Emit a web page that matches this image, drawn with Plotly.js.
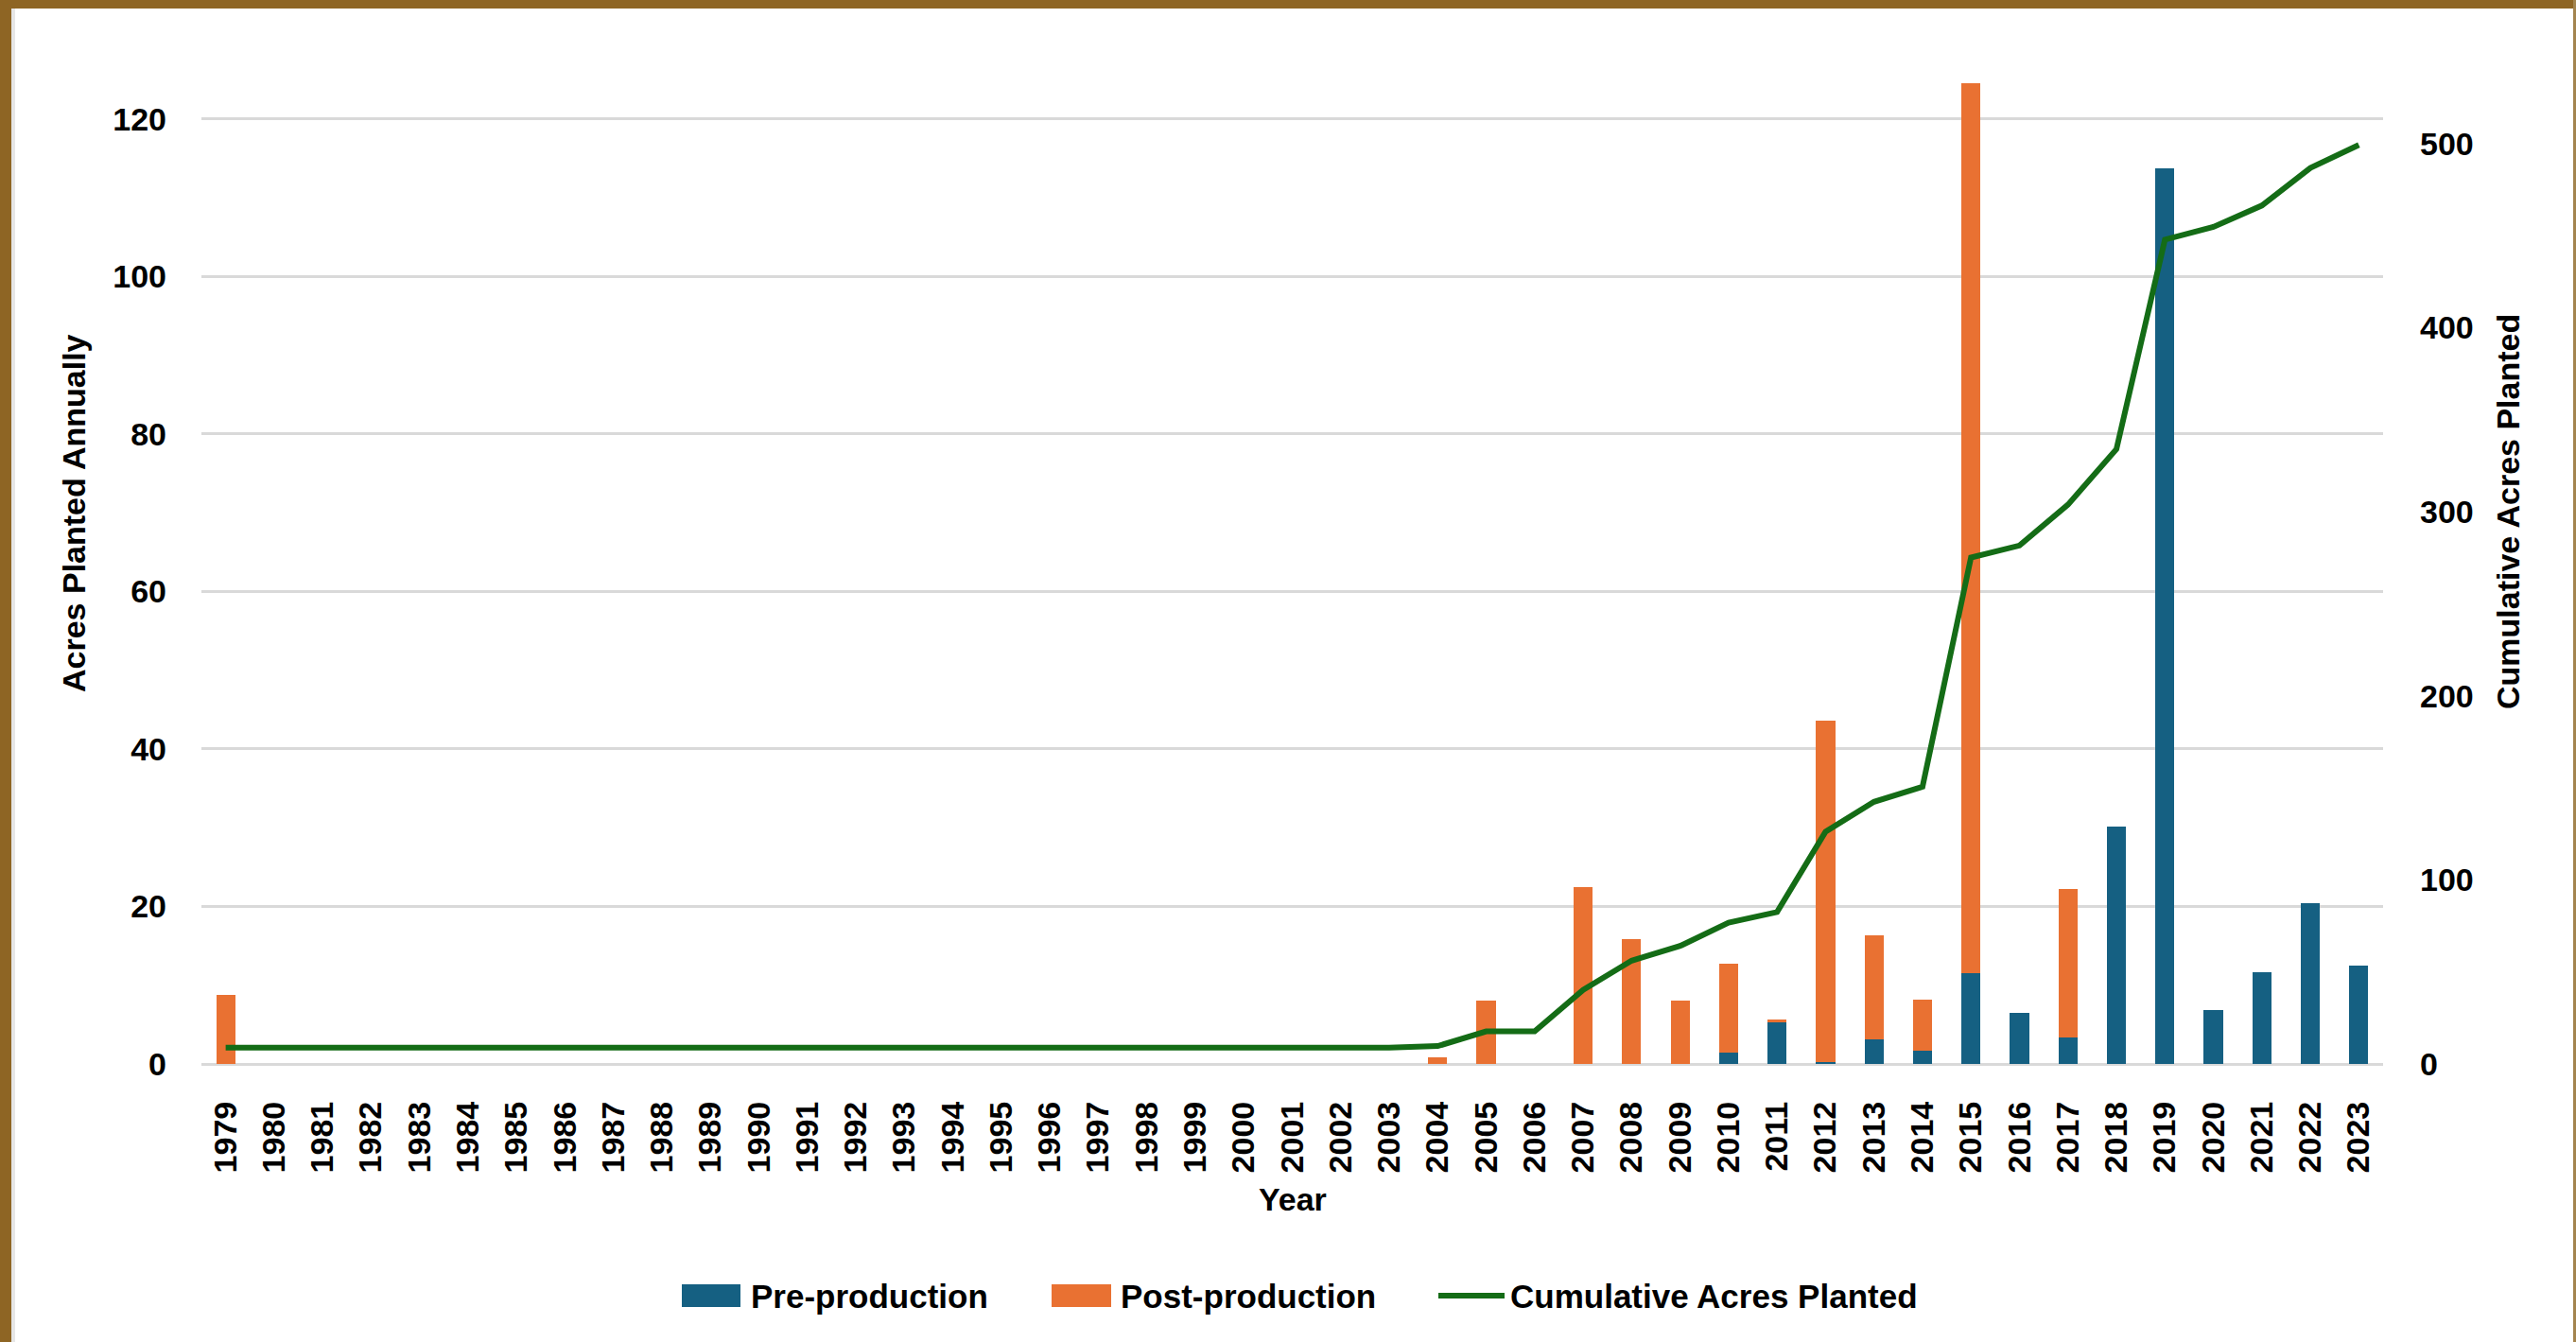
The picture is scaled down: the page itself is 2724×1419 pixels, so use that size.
<!DOCTYPE html>
<html>
<head>
<meta charset="utf-8">
<script src="https://cdn.plot.ly/plotly-3.0.1.min.js"></script>
<style>
  html, body { margin: 0; padding: 0; background: #ffffff; }
  #wrap { position: relative; width: 2724px; height: 1419px; overflow: hidden; background: #ffffff; }
  #chart { position: absolute; left: 0; top: 0; width: 2724px; height: 1419px; }
  .edge { position: absolute; pointer-events: none; }
</style>
</head>
<body>
<div id="wrap">
  <div id="chart"></div>
  <div class="edge" style="left:0;top:0;width:2724px;height:9px;background:#8E6524"></div>
  <div class="edge" style="left:0;top:0;width:12px;height:1419px;background:#8E6524"></div>
  <div class="edge" style="left:12px;top:9px;width:4px;height:1410px;background:#e6e6e6"></div>
  <div class="edge" style="right:0;top:0;width:3px;height:1419px;background:#A3844F"></div>
</div>
<script>
// Planting years
const years = [
  1979, 1980, 1981, 1982, 1983, 1984, 1985, 1986, 1987, 1988,
  1989, 1990, 1991, 1992, 1993, 1994, 1995, 1996, 1997, 1998,
  1999, 2000, 2001, 2002, 2003, 2004, 2005, 2006, 2007, 2008,
  2009, 2010, 2011, 2012, 2013, 2014, 2015, 2016, 2017, 2018,
  2019, 2020, 2021, 2022, 2023
];

// Acres planted each year, pre-production blocks
const preProduction = [
  0, 0, 0, 0, 0, 0, 0, 0, 0, 0,
  0, 0, 0, 0, 0, 0, 0, 0, 0, 0,
  0, 0, 0, 0, 0, 0, 0, 0, 0, 0,
  0, 1.5, 5.3, 0.3, 3.1, 1.7, 11.5, 6.5, 3.4, 30.2,
  113.8, 6.9, 11.6, 20.4, 12.5
];

// Acres planted each year, post-production blocks
const postProduction = [
  8.8, 0, 0, 0, 0, 0, 0, 0, 0, 0,
  0, 0, 0, 0, 0, 0, 0, 0, 0, 0,
  0, 0, 0, 0, 0, 0.9, 8.0, 0, 22.5, 15.9,
  8.0, 11.2, 0.4, 43.3, 13.2, 6.5, 113.0, 0, 18.8, 0,
  0, 0, 0, 0, 0
];

// Running total of acres planted
const cumulativeAcres = [
  8.8, 8.8, 8.8, 8.8, 8.8, 8.8, 8.8, 8.8, 8.8, 8.8,
  8.8, 8.8, 8.8, 8.8, 8.8, 8.8, 8.8, 8.8, 8.8, 8.8,
  8.8, 8.8, 8.8, 8.8, 8.8, 9.7, 17.7, 17.7, 40.2, 56.1,
  64.1, 76.8, 82.5, 126.1, 142.4, 150.6, 275.1, 281.6, 303.8, 334.0,
  447.8, 454.7, 466.3, 486.7, 499.2
];

const seriesNames = ['Pre-production', 'Post-production', 'Cumulative Acres Planted'];
const seriesColors = ['#156082', '#E97132', '#146C16'];

const FONT = 'Liberation Sans, Arial, Helvetica, sans-serif';
const W = 2724, H = 1419;
const M = { l: 213, r: 204, t: 76, b: 294 };
const plotW = W - M.l - M.r, plotH = H - M.t - M.b;
const leftMax = 126;
const rightMax = leftMax * 4.277;

// pixel -> paper helpers for the hand-built legend and titles
const px = v => (v - M.l) / plotW;
const py = v => (H - M.b - v) / plotH;

const traces = [
  {
    type: 'bar', name: seriesNames[0], x: years, y: preProduction,
    marker: { color: seriesColors[0], line: { width: 0 } }, yaxis: 'y', showlegend: false
  },
  {
    type: 'bar', name: seriesNames[1], x: years, y: postProduction,
    marker: { color: seriesColors[1], line: { width: 0 } }, yaxis: 'y', showlegend: false
  },
  {
    type: 'scatter', mode: 'lines', name: seriesNames[2], x: years, y: cumulativeAcres,
    line: { color: seriesColors[2], width: 6 }, yaxis: 'y2', showlegend: false
  }
];

const tickFont = { family: FONT, size: 34, color: '#000000', weight: 700 };
const titleFont = { family: FONT, size: 34, color: '#000000', weight: 700 };
const legendFont = { family: FONT, size: 35, color: '#000000', weight: 700 };

// Legend entries: swatch extent and label start, in pixels
const legendY = 1370;
const legendItems = [
  { kind: 'box', x0: 721, x1: 783, tx: 792 },
  { kind: 'box', x0: 1112, x1: 1175, tx: 1183 },
  { kind: 'line', x0: 1521, x1: 1591, tx: 1595 }
];

const shapes = [];
const annotations = [];
legendItems.forEach((it, i) => {
  if (it.kind === 'box') {
    shapes.push({
      type: 'rect', xref: 'paper', yref: 'paper',
      x0: px(it.x0), x1: px(it.x1), y0: py(legendY + 12), y1: py(legendY - 12),
      fillcolor: traces[i].marker.color, line: { width: 0 }
    });
  } else {
    shapes.push({
      type: 'line', xref: 'paper', yref: 'paper',
      x0: px(it.x0), x1: px(it.x1), y0: py(legendY), y1: py(legendY),
      line: { color: traces[i].line.color, width: 6 }
    });
  }
  annotations.push({
    text: traces[i].name, xref: 'paper', yref: 'paper',
    x: px(it.tx), y: py(legendY), xanchor: 'left', yanchor: 'middle',
    showarrow: false, font: legendFont
  });
});

// Axis titles
annotations.push(
  { text: 'Acres Planted Annually', xref: 'paper', yref: 'paper', x: px(78), y: py(543),
    xanchor: 'center', yanchor: 'middle', textangle: -90, showarrow: false, font: titleFont },
  { text: 'Cumulative Acres Planted', xref: 'paper', yref: 'paper', x: px(2652), y: py(541),
    xanchor: 'center', yanchor: 'middle', textangle: -90, showarrow: false, font: titleFont },
  { text: 'Year', xref: 'paper', yref: 'paper', x: px(1367), y: py(1268),
    xanchor: 'center', yanchor: 'middle', showarrow: false, font: titleFont }
);

const layout = {
  width: W, height: H,
  margin: M,
  paper_bgcolor: 'rgba(0,0,0,0)',
  plot_bgcolor: 'rgba(0,0,0,0)',
  barmode: 'stack',
  bargap: 0.605,
  showlegend: false,
  font: { family: FONT, color: '#000000' },
  xaxis: {
    type: 'linear', range: [1978.5, 2023.5], tickmode: 'linear', tick0: 1979, dtick: 1,
    tickangle: -90, tickfont: tickFont, ticklabelstandoff: 32,
    showgrid: false, zeroline: false, showline: false, ticks: '', automargin: false
  },
  yaxis: {
    range: [0, leftMax], tickmode: 'linear', tick0: 0, dtick: 20,
    tickfont: tickFont, ticklabelstandoff: 36,
    showgrid: true, gridcolor: '#d9d9d9', gridwidth: 3,
    zeroline: true, zerolinecolor: '#d9d9d9', zerolinewidth: 3,
    showline: false, ticks: '', automargin: false
  },
  yaxis2: {
    range: [0, rightMax], tickmode: 'linear', tick0: 0, dtick: 100,
    overlaying: 'y', side: 'right', tickfont: tickFont, ticklabelstandoff: 38,
    showgrid: false, zeroline: false, showline: false, ticks: '', automargin: false
  },
  shapes: shapes,
  annotations: annotations
};

Plotly.newPlot('chart', traces, layout, { staticPlot: true, displayModeBar: false });
</script>
</body>
</html>
